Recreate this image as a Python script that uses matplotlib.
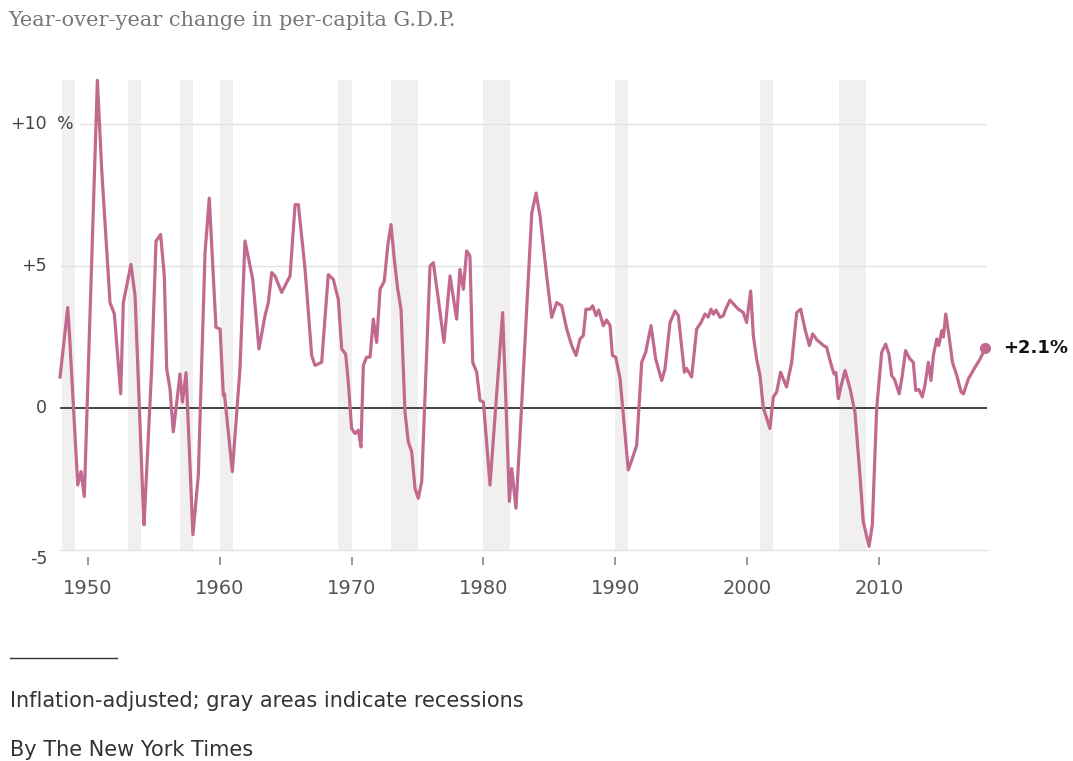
import matplotlib
matplotlib.use("Agg")
import matplotlib.pyplot as plt
from matplotlib.lines import Line2D

# quarterly readings (year, % change) taken off the chart
years = [1947.88, 1948.46, 1948.60, 1949.22, 1949.47, 1949.72, 1950.71, 1951.04, 1951.67, 1952.00,
         1952.48, 1952.68, 1953.26, 1953.57, 1954.20, 1954.25, 1954.83, 1955.16, 1955.51, 1955.79,
         1955.97, 1956.22, 1956.47, 1956.98, 1957.16, 1957.44, 1957.96, 1958.37, 1958.88, 1959.20,
         1959.71, 1960.02, 1960.27, 1960.35, 1960.95, 1961.53, 1961.91, 1962.50, 1962.97, 1963.43,
         1963.68, 1963.94, 1964.19, 1964.69, 1965.33, 1965.71, 1965.96, 1966.47, 1966.97, 1967.22,
         1967.73, 1968.23, 1968.61, 1968.99, 1969.25, 1969.55, 1969.75, 1970.00, 1970.26, 1970.51,
         1970.71, 1970.89, 1971.14, 1971.40, 1971.65, 1971.90, 1972.16, 1972.48, 1972.74, 1972.99,
         1973.24, 1973.50, 1973.75, 1974.05, 1974.30, 1974.56, 1974.81, 1975.06, 1975.32, 1975.95,
         1976.20, 1976.58, 1977.01, 1977.47, 1977.97, 1978.22, 1978.48, 1978.73, 1978.98, 1979.19,
         1979.49, 1979.74, 1980.00, 1980.20, 1980.50, 1981.46, 1981.71, 1981.97, 1982.15, 1982.47,
         1982.78, 1983.67, 1984.00, 1984.30, 1984.80, 1985.18, 1985.56, 1985.94, 1986.32, 1986.70,
         1987.03, 1987.33, 1987.58, 1987.78, 1988.09, 1988.29, 1988.55, 1988.75, 1989.10, 1989.35,
         1989.61, 1989.79, 1990.04, 1990.37, 1990.99, 1991.30, 1991.63, 1992.01, 1992.31, 1992.72,
         1993.07, 1993.53, 1993.78, 1994.16, 1994.54, 1994.79, 1995.25, 1995.40, 1995.80, 1996.18,
         1996.51, 1996.81, 1997.05, 1997.27, 1997.45, 1997.65, 1997.96, 1998.20, 1998.40, 1998.71,
         1999.00, 1999.34, 1999.72, 1999.97, 2000.28, 2000.48, 2000.73, 2000.99, 2001.24, 2001.74,
         2002.00, 2002.25, 2002.55, 2003.00, 2003.39, 2003.77, 2004.07, 2004.40, 2004.73, 2004.98,
         2005.30, 2005.54, 2005.80, 2006.04, 2006.30, 2006.60, 2006.75, 2006.93, 2007.15, 2007.44,
         2007.82, 2008.19, 2008.57, 2008.82, 2009.26, 2009.51, 2009.84, 2010.22, 2010.52, 2010.77,
         2010.98, 2011.20, 2011.55, 2011.78, 2012.03, 2012.36, 2012.62, 2012.80, 2013.05, 2013.30,
         2013.50, 2013.76, 2013.96, 2014.14, 2014.40, 2014.55, 2014.78, 2014.90, 2015.08, 2015.29,
         2015.59, 2015.92, 2016.25, 2016.42, 2016.80, 2017.31, 2017.69, 2018.07]
growth = [1.09, 3.54, 2.55, -2.71, -2.24, -3.12, 11.54, 8.39, 3.71, 3.31,
          0.50, 3.71, 5.06, 3.95, -3.64, -4.11, 1.38, 5.88, 6.11, 4.65,
          1.38, 0.68, -0.84, 1.20, 0.21, 1.24, -4.46, -2.36, 5.47, 7.39,
          2.84, 2.78, 0.44, 0.50, -2.24, 1.38, 5.88, 4.53, 2.08, 3.25,
          3.71, 4.77, 4.65, 4.07, 4.65, 7.16, 7.16, 4.88, 1.85, 1.50,
          1.61, 4.70, 4.53, 3.83, 2.08, 1.90, 0.91, -0.72, -0.90, -0.78,
          -1.37, 1.50, 1.79, 1.79, 3.13, 2.31, 4.18, 4.47, 5.70, 6.46,
          5.23, 4.18, 3.48, -0.14, -1.19, -1.54, -2.83, -3.18, -2.59, 5.00,
          5.12, 3.83, 2.31, 4.65, 3.13, 4.88, 4.18, 5.53, 5.35, 1.61,
          1.26, 0.27, 0.21, -0.96, -2.71, 3.36, 0.21, -3.29, -2.13, -3.53,
          -0.96, 6.87, 7.57, 6.75, 4.65, 3.19, 3.71, 3.60, 2.78, 2.20,
          1.85, 2.43, 2.55, 3.48, 3.48, 3.60, 3.25, 3.45, 2.90, 3.10,
          2.90, 1.85, 1.79, 1.03, -2.18, -1.78, -1.31, 1.61, 1.96, 2.90,
          1.73, 0.97, 1.38, 3.01, 3.42, 3.25, 1.26, 1.40, 1.09, 2.78,
          3.01, 3.31, 3.20, 3.48, 3.30, 3.45, 3.19, 3.25, 3.50, 3.80,
          3.65, 3.48, 3.36, 3.01, 4.12, 2.55, 1.73, 1.14, 0.00, -0.72,
          0.39, 0.56, 1.26, 0.74, 1.61, 3.36, 3.48, 2.78, 2.20, 2.61,
          2.40, 2.31, 2.20, 2.14, 1.67, 1.20, 1.25, 0.33, 0.80, 1.32,
          0.68, -0.14, -2.36, -4.00, -4.87, -4.11, 0.00, 1.96, 2.25, 1.90,
          1.14, 1.00, 0.50, 1.14, 2.02, 1.73, 1.61, 0.62, 0.65, 0.39,
          0.80, 1.61, 0.97, 1.85, 2.43, 2.20, 2.72, 2.50, 3.31, 2.66,
          1.61, 1.14, 0.56, 0.50, 1.03, 1.44, 1.73, 2.10]

recessions = [(1948, 1949), (1953, 1954), (1957, 1958), (1960, 1961), (1969, 1970),
              (1973, 1975), (1980, 1982), (1990, 1991), (2001, 2002), (2007, 2009)]

decades = [1950, 1960, 1970, 1980, 1990, 2000, 2010]
y_levels = [10, 5, 0, -5]
y_labels = ["+10", "+5", "0", "-5"]

line_color = "#c2698f"

fig = plt.figure(figsize=(10.73, 7.61), dpi=100)
ax = fig.add_axes([60 / 1073, 1 - 550 / 761, 927 / 1073, 470 / 761])
ax.set_xlim(1947.875, 2018.21)
ax.set_ylim(-5, 11.55)

for start, end in recessions:
    ax.axvspan(start, end, color="#f1f0ef", lw=0, zorder=0)

# top gridline leaves room for the "%" of its label
ax.axhline(10, xmin=20 / 927, color="#e2e2e2", lw=1, zorder=1)
ax.axhline(5, color="#e2e2e2", lw=1, zorder=1)
ax.axhline(-5, color="#e2e2e2", lw=1, zorder=1, clip_on=False)
ax.axhline(0, color="#333333", lw=1.3, zorder=2)

ax.plot(years, growth, color=line_color, lw=2.3, zorder=3, clip_on=False,
        solid_joinstyle="round")
ax.plot(years[-1], growth[-1], "o", color=line_color, ms=7, zorder=4, clip_on=False)
ax.annotate("+%.1f%%" % growth[-1], (years[-1], growth[-1]), xytext=(13, 0),
            textcoords="offset points", va="center", ha="left",
            fontsize=13, fontweight="bold", color="#111111", annotation_clip=False)

for s in ax.spines.values():
    s.set_visible(False)
ax.spines["bottom"].set_position(("outward", 5))
ax.set_yticks([])
ax.set_xticks(decades)
ax.set_xticklabels([str(d) for d in decades])
ax.tick_params(axis="x", length=6, width=1.2, color="#888888", pad=10,
               labelsize=14, labelcolor="#555555")

ytr = ax.get_yaxis_transform()
for lv, lab in zip(y_levels, y_labels):
    ax.text(-0.014, lv, lab, transform=ytr, ha="right",
            va="top" if lv == -5 else "center", fontsize=12.5, color="#444444")
ax.text(-0.003, 10, "%", transform=ytr, ha="left", va="center", fontsize=12.5,
        color="#444444", zorder=5)

fig.text(8 / 1073, 1 - 20 / 761, "Year-over-year change in per-capita G.D.P.",
         family="DejaVu Serif", fontsize=15, color="#777777", va="center", ha="left")

fig.add_artist(Line2D([10 / 1073, 117 / 1073], [1 - 658 / 761, 1 - 658 / 761],
                      transform=fig.transFigure, color="#333333", lw=1))
fig.text(10 / 1073, 1 - 701 / 761, "Inflation-adjusted; gray areas indicate recessions",
         fontsize=15, color="#333333", va="center", ha="left")
fig.text(10 / 1073, 1 - 750 / 761, "By The New York Times",
         fontsize=15, color="#333333", va="center", ha="left")

fig.savefig("out.png", dpi=100)
